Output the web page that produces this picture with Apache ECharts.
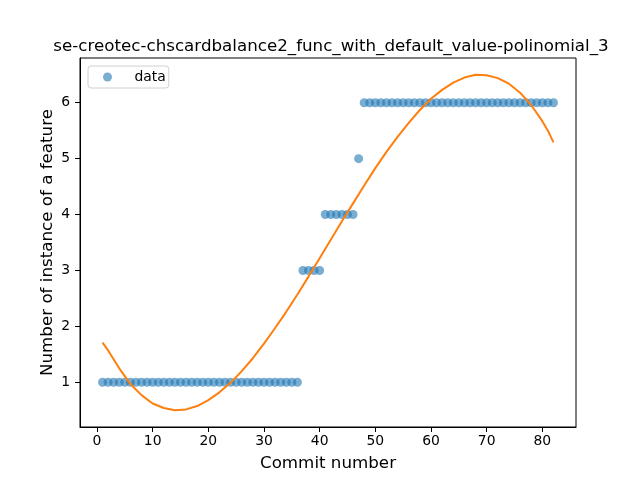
<!DOCTYPE html>
<html>
<head>
    <meta charset="utf-8">
    <title>polinomial_3</title>
    <script src="https://cdn.jsdelivr.net/npm/echarts@6/dist/echarts.min.js"></script>
    <style>
        html, body { margin: 0; padding: 0; background: #fff; }
        #main { width: 640px; height: 480px; }
    </style>
</head>
<body>
<div id="main"></div>
<script type="text/javascript">
    // commit numbers and observed feature counts
    var commits = [];
    for (var i = 1; i <= 82; i++) commits.push(i);
    var counts = [
        1, 1, 1, 1, 1, 1, 1, 1, 1, 1, 1, 1, 1, 1, 1, 1, 1, 1, 1, 1,
        1, 1, 1, 1, 1, 1, 1, 1, 1, 1, 1, 1, 1, 1, 1, 1,
        3, 3, 3, 3,
        4, 4, 4, 4, 4, 4,
        5,
        6, 6, 6, 6, 6, 6, 6, 6, 6, 6, 6, 6, 6, 6, 6, 6, 6, 6, 6, 6,
        6, 6, 6, 6, 6, 6, 6, 6, 6, 6, 6, 6, 6, 6, 6
    ];

    // fitted curve
    var fitX = [1, 2, 4, 6, 8, 10, 12, 14, 16, 18, 20, 22, 24, 26, 28, 30, 32, 34, 36, 38, 40,
                42, 44, 46, 48, 50, 52, 54, 56, 58, 60, 62, 64, 66, 68, 70, 72, 74, 76, 78, 80, 81, 82];
    var fitY = [1.71, 1.57, 1.25, 0.97, 0.77, 0.62, 0.54, 0.50, 0.515, 0.575, 0.68, 0.82, 0.99, 1.20, 1.43, 1.69, 1.97, 2.26, 2.57, 2.89, 3.22,
                3.55, 3.88, 4.20, 4.52, 4.83, 5.12, 5.39, 5.64, 5.87, 6.07, 6.23, 6.36, 6.45, 6.50, 6.49, 6.44, 6.34, 6.18, 5.96, 5.67, 5.50, 5.29];

    var xTicks = [0, 10, 20, 30, 40, 50, 60, 70, 80];
    var yTicks = [1, 2, 3, 4, 5, 6];

    var font = 'DejaVu Sans';
    var myChart = echarts.init(document.getElementById('main'));

    var option = {
        animation: false,
        title: {
            text: 'se-creotec-chscardbalance2_func_with_default_value-polinomial_3',
            left: 326, top: 33, textAlign: 'center',
            textStyle: { fontFamily: font, fontSize: 16.7, fontWeight: 'normal', color: '#000' }
        },
        legend: {
            data: ['data'],
            left: 88, top: 66,
            orient: 'vertical',
            borderColor: '#d0d0d0', borderWidth: 1, borderRadius: 3,
            padding: [4, 3, 4, 15],
            itemWidth: 24, itemHeight: 9,
            textStyle: { fontFamily: font, fontSize: 13.9, color: '#000', padding: [0, 0, 0, 10] }
        },
        grid: {
            left: 80, right: 64, top: 58, bottom: 53,
            show: true, borderColor: '#000', borderWidth: 1
        },
        xAxis: {
            type: 'value',
            min: -3.05, max: 86.05,
            name: 'Commit number', nameLocation: 'middle', nameGap: 28, nameMoveOverlap: false,
            nameTextStyle: { fontFamily: font, fontSize: 16.7, color: '#000' },
            splitLine: { show: false },
            axisLine: { show: true, onZero: false, lineStyle: { color: '#000' } },
            axisTick: { show: true, length: 5, customValues: xTicks, lineStyle: { color: '#000' } },
            axisLabel: { customValues: xTicks, margin: 7, fontFamily: font, fontSize: 13.9, color: '#000' }
        },
        yAxis: {
            type: 'value',
            min: 0.2, max: 6.8,
            name: 'Number of instance of a feature', nameLocation: 'middle', nameGap: 24, nameMoveOverlap: false,
            nameTextStyle: { fontFamily: font, fontSize: 16.7, color: '#000' },
            splitLine: { show: false },
            axisLine: { show: true, onZero: false, lineStyle: { color: '#000' } },
            axisTick: { show: true, length: 5, customValues: yTicks, lineStyle: { color: '#000' } },
            axisLabel: { customValues: yTicks, margin: 10, fontFamily: font, fontSize: 13.9, color: '#000' }
        },
        series: [
            {
                name: 'data',
                type: 'scatter',
                symbolSize: 9,
                itemStyle: { color: '#1f77b4', opacity: 0.6 },
                data: commits.map(function (c, i) { return [c, counts[i]]; })
            },
            {
                name: 'fit',
                type: 'line',
                smooth: false,
                showSymbol: false,
                lineStyle: { color: '#ff7f0e', width: 2 },
                itemStyle: { color: '#ff7f0e' },
                data: fitX.map(function (x, i) { return [x, fitY[i]]; })
            }
        ]
    };

    myChart.setOption(option);
</script>
</body>
</html>
